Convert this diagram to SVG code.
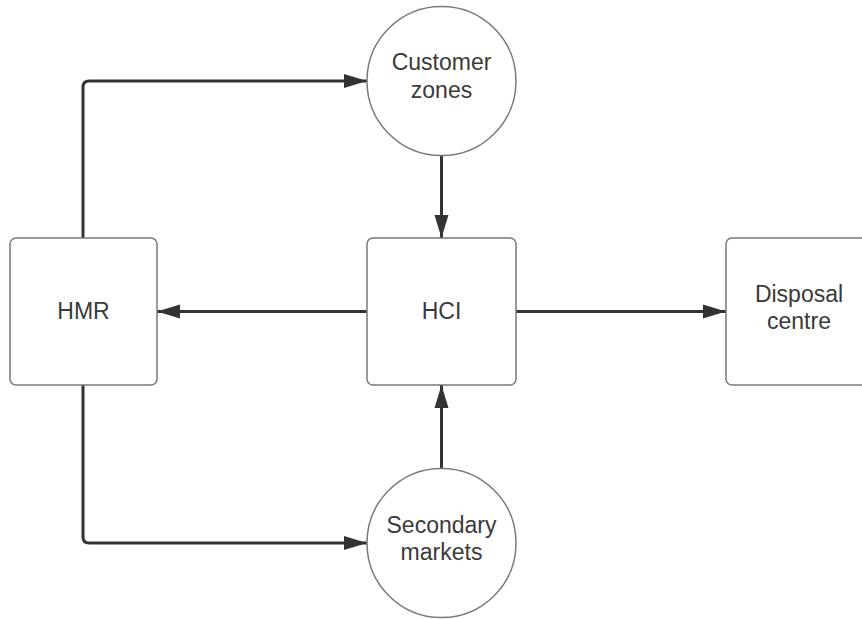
<svg xmlns="http://www.w3.org/2000/svg" width="862" height="619" viewBox="0 0 862 619">
  <defs>
    <marker id="arrow" markerUnits="userSpaceOnUse" markerWidth="24" markerHeight="16" viewBox="0 0 24 16" refX="23" refY="8" orient="auto">
      <path d="M0,1 L23,8 L0,15 Z" fill="#333333"/>
    </marker>
    <style>
      .box { fill: #ffffff; stroke: #7a7a7a; stroke-width: 1.5; }
      .lbl { font-family: "Liberation Sans", Arial, sans-serif; font-size: 23px; fill: #3a3a3a; text-anchor: middle; }
      .edge { fill: none; stroke: #333333; stroke-width: 3; stroke-linejoin: round; marker-end: url(#arrow); }
    </style>
  </defs>
  <rect width="862" height="619" fill="#ffffff"/>

  <g id="connectors">
    <path class="edge" d="M83,238 L83,87 Q83,81 89,81 L367,81"/>
    <path class="edge" d="M83,385 L83,537 Q83,543 89,543 L367,543"/>
    <path class="edge" d="M441.5,156 L441.5,238"/>
    <path class="edge" d="M441.5,468 L441.5,385"/>
    <path class="edge" d="M367,311.5 L157,311.5"/>
    <path class="edge" d="M516,311.5 L726,311.5"/>
  </g>

  <g id="hmr">
    <rect class="box" x="10" y="238" width="147" height="147" rx="6"/>
    <text class="lbl" x="83.5" y="319">HMR</text>
  </g>

  <g id="hci">
    <rect class="box" x="367" y="238" width="149" height="147" rx="6"/>
    <text class="lbl" x="441.5" y="319">HCI</text>
  </g>

  <g id="disposal">
    <rect class="box" x="726" y="238" width="147" height="147" rx="6"/>
    <text class="lbl" x="799" y="302">Disposal</text>
    <text class="lbl" x="799" y="329">centre</text>
  </g>

  <g id="customer-zones">
    <circle class="box" cx="441.5" cy="81" r="74.5"/>
    <text class="lbl" x="441.5" y="70">Customer</text>
    <text class="lbl" x="441.5" y="98">zones</text>
  </g>

  <g id="secondary-markets">
    <circle class="box" cx="441.5" cy="543" r="74.5"/>
    <text class="lbl" x="441.5" y="533">Secondary</text>
    <text class="lbl" x="441.5" y="560">markets</text>
  </g>
</svg>
